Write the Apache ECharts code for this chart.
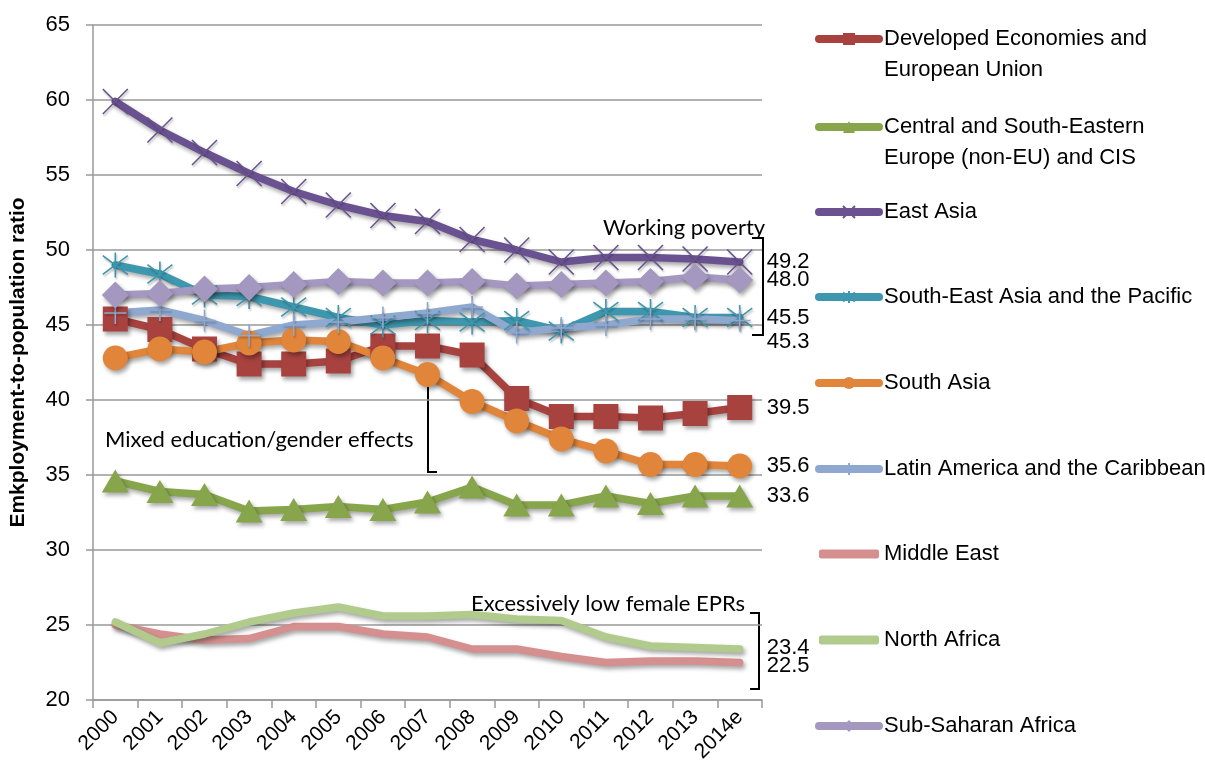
<!DOCTYPE html>
<html>
<head>
<meta charset="utf-8">
<script src="https://cdn.jsdelivr.net/npm/echarts@6/dist/echarts.min.js"></script>
<style>html,body{margin:0;padding:0;background:#fff;}#c{width:1205px;height:772px;}</style>
</head>
<body>
<div id="c"></div>
<script>
const categories = ['2000','2001','2002','2003','2004','2005','2006','2007','2008','2009','2010','2011','2012','2013','2014e'];
const developed   = [45.4, 44.7, 43.4, 42.4, 42.4, 42.6, 43.6, 43.6, 43.0, 40.1, 38.9, 38.9, 38.8, 39.1, 39.5];
const centralSE   = [34.6, 33.9, 33.7, 32.6, 32.7, 32.9, 32.7, 33.2, 34.2, 33.0, 33.0, 33.6, 33.1, 33.6, 33.6];
const eastAsia    = [59.9, 58.0, 56.5, 55.1, 53.9, 53.0, 52.3, 51.9, 50.7, 50.0, 49.2, 49.5, 49.5, 49.4, 49.2];
const seAsia      = [49.0, 48.4, 47.0, 46.9, 46.2, 45.5, 45.0, 45.3, 45.2, 45.3, 44.6, 45.9, 45.9, 45.5, 45.5];
const southAsia   = [42.8, 43.4, 43.2, 43.8, 44.0, 43.9, 42.8, 41.7, 39.9, 38.6, 37.4, 36.6, 35.7, 35.7, 35.6];
const latAm       = [45.8, 46.0, 45.3, 44.3, 45.0, 45.2, 45.5, 45.8, 46.2, 44.5, 44.8, 45.0, 45.4, 45.4, 45.3];
const middleEast  = [25.0, 24.4, 24.0, 24.1, 24.9, 24.9, 24.4, 24.2, 23.4, 23.4, 22.9, 22.5, 22.6, 22.6, 22.5];
const northAfrica = [25.2, 23.8, 24.4, 25.2, 25.8, 26.2, 25.6, 25.6, 25.7, 25.4, 25.3, 24.2, 23.6, 23.5, 23.4];
const subSahara   = [47.0, 47.1, 47.4, 47.5, 47.7, 47.9, 47.8, 47.8, 47.9, 47.6, 47.7, 47.8, 47.9, 48.2, 48.0];
const yTicks = {min: 20, max: 65, interval: 5};
const yAxisName = 'Emkployment-to-population ratio';

const FONT = '"Liberation Sans", Arial, Helvetica, sans-serif';
const XSYM = 'path://M2,2L22,22M22,2L2,22';
const ASTER = 'path://M3,3L21,21M21,3L3,21M12,0L12,24';
const PLUS = 'path://M12,0L12,24M0,12L24,12';

const seriesDefs = [
  {name:'Developed Economies and European Union', first:'Developed Economies and', second:'European Union', data:developed, color:'#a8423f', symbol:'rect', size:25, stroke:false, off:0},
  {name:'Central and South-Eastern Europe (non-EU) and CIS', first:'Central and South-Eastern', second:'Europe (non-EU) and CIS', data:centralSE, color:'#87a54b', symbol:'triangle', size:[27,23], stroke:false, off:0},
  {name:'East Asia', first:'East Asia', data:eastAsia, color:'#6a5291', symbol:XSYM, size:25, stroke:true, off:0},
  {name:'South-East Asia and the Pacific', first:'South-East Asia and the Pacific', data:seAsia, color:'#3d97ae', symbol:ASTER, size:25, stroke:true, off:0},
  {name:'South Asia', first:'South Asia', data:southAsia, color:'#e1853a', symbol:'circle', size:25, stroke:false, off:0},
  {name:'Latin America and the Caribbean', first:'Latin America and the Caribbean', data:latAm, color:'#8fa8cf', symbol:PLUS, size:22, stroke:true, off:21},
  {name:'Middle East', first:'Middle East', data:middleEast, color:'#d48f8e', symbol:'none', size:0, stroke:false, off:3},
  {name:'North Africa', first:'North Africa', data:northAfrica, color:'#b1cb8d', symbol:'none', size:0, stroke:false, off:-1},
  {name:'Sub-Saharan Africa', first:'Sub-Saharan Africa', data:subSahara, color:'#a598c0', symbol:'diamond', size:27, stroke:false, off:0}
];
const legendCenters = [39, 127, 212, 297, 383, 469, 554, 640, 726];

const shadow = {shadowColor:'rgba(0,0,0,0.35)', shadowBlur:4, shadowOffsetX:2, shadowOffsetY:3};

const series = seriesDefs.map(d => ({
  name: d.name,
  type: 'line',
  data: d.data,
  symbol: d.symbol,
  symbolSize: d.size,
  showSymbol: d.symbol !== 'none',
  lineStyle: Object.assign({color: d.color, width: 7.5, cap:'round', join:'round'}, shadow),
  itemStyle: d.stroke
    ? Object.assign({color: d.color, borderColor: d.color, borderWidth: 1.6}, {shadowColor:'rgba(0,0,0,0.25)', shadowBlur:2, shadowOffsetX:1, shadowOffsetY:2})
    : Object.assign({color: d.color, borderWidth: 0}, shadow),
  endLabel: {
    show: true,
    distance: 27,
    offset: [0, d.off],
    color: '#000',
    fontSize: 22,
    fontFamily: FONT,
    formatter: p => Number(p.value).toFixed(1)
  },
  emphasis: {disabled: true},
  z: 2
}));

const legends = seriesDefs.map((d, i) => {
  const noSym = d.symbol === 'none';
  return {
    data: [noSym ? {name: d.name, icon: 'roundRect', itemStyle: {color: d.color}} : {name: d.name}],
    left: noSym ? 819 : 815,
    top: legendCenters[i] - 13,
    padding: 0,
    itemWidth: 60,
    itemHeight: noSym ? 9 : 15,
    itemGap: 0,
    selectedMode: false,
    lineStyle: {width: 8, cap: 'round', color: d.color, shadowBlur: 0},
    itemStyle: {shadowBlur: 0},
    formatter: () => d.first,
    textStyle: {fontSize: 22, color: '#000', fontFamily: FONT, lineHeight: 26}
  };
});

const secondLines = [];
seriesDefs.forEach((d, i) => {
  if (d.second) {
    secondLines.push({type:'text', x: 884, y: legendCenters[i] + 31,
      style: {text: d.second, font: '22px ' + FONT, fill: '#000', verticalAlign: 'middle', align: 'left'}});
  }
});

const annFont = '22px Lato, "Open Sans", sans-serif';
const graphics = secondLines.concat([
  {type:'text', x: 603, y: 228, style:{text:'Working poverty', font: annFont, fill:'#000', verticalAlign:'middle'}},
  {type:'text', x: 471, y: 604, style:{text:'Excessively low female EPRs', font: annFont, fill:'#000', verticalAlign:'middle'}},
  {type:'text', x: 105, y: 440, style:{text:'Mixed education/gender effects', font: annFont, fill:'#000', verticalAlign:'middle'}},
  {type:'polyline', shape:{points:[[752,238],[763,238],[763,335],[752,335]]}, style:{stroke:'#000', lineWidth:2, fill:null}},
  {type:'polyline', shape:{points:[[750,613],[759,613],[759,689],[750,689]]}, style:{stroke:'#000', lineWidth:2, fill:null}},
  {type:'polyline', shape:{points:[[437,378],[428,378],[428,472],[437,472]]}, style:{stroke:'#000', lineWidth:2, fill:null}}
]);

const chart = echarts.init(document.getElementById('c'), null, {renderer:'canvas'});
chart.setOption({
  animation: false,
  backgroundColor: '#fff',
  grid: {left: 93, right: 443, top: 25, bottom: 72, containLabel: false},
  xAxis: {
    type: 'category',
    data: categories,
    boundaryGap: true,
    axisLine: {show: true, lineStyle: {color: '#999', width: 1.5}},
    axisTick: {show: true, length: 8, interval: 0, lineStyle: {color: '#999', width: 1.5}},
    axisLabel: {interval: 0, rotate: 45, fontSize: 21, color: '#000', fontFamily: FONT, margin: 14},
    splitLine: {show: false}
  },
  yAxis: {
    type: 'value',
    min: yTicks.min, max: yTicks.max, interval: yTicks.interval,
    name: yAxisName,
    nameLocation: 'middle',
    nameRotate: 90,
    nameGap: 64,
    nameTextStyle: {fontSize: 21, fontWeight: 'bold', color: '#000', fontFamily: FONT},
    axisLine: {show: true, lineStyle: {color: '#999', width: 1.5}},
    axisTick: {show: true, length: 7, lineStyle: {color: '#999', width: 1.5}},
    axisLabel: {fontSize: 22, color: '#000', fontFamily: FONT, margin: 23},
    splitLine: {show: true, lineStyle: {color: '#999', width: 1.5}}
  },
  legend: legends,
  series: series,
  graphic: graphics
});
</script>
</body>
</html>
